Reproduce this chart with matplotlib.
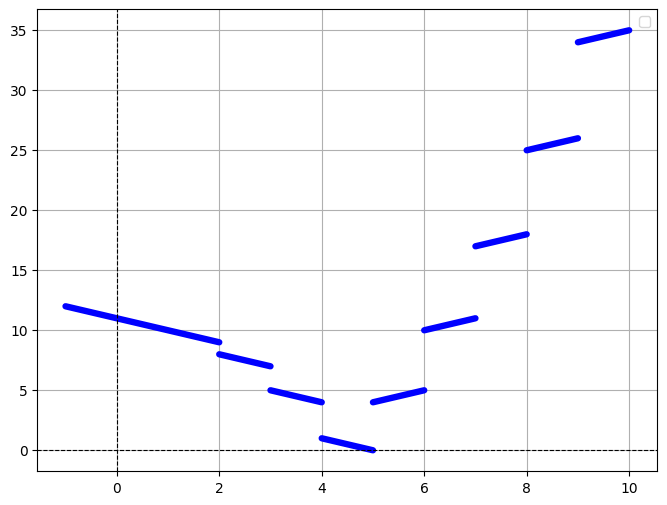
import matplotlib
matplotlib.use("Agg")
import matplotlib.pyplot as plt

x_start = [-1, 2, 3, 4, 5, 6, 7, 8, 9]
x_end = [2, 3, 4, 5, 6, 7, 8, 9, 10]
y_start = [12, 8, 5, 1, 4, 10, 17, 25, 34]
y_end = [9, 7, 4, 0, 5, 11, 18, 26, 35]

fig, ax = plt.subplots(figsize=(8, 6), dpi=100)
for xs, xe, ys, ye in zip(x_start, x_end, y_start, y_end):
    ax.plot([xs, xe], [ys, ye], color='black', lw=1)
    ax.plot([xs, xe], [ys, ye], color='blue', lw=4.6, solid_capstyle='round')
ax.axhline(0, color='black', linestyle='--', lw=0.8)
ax.axvline(0, color='black', linestyle='--', lw=0.8)
ax.grid(True)
ax.legend()
fig.savefig("out.png", dpi=100, bbox_inches='tight')
